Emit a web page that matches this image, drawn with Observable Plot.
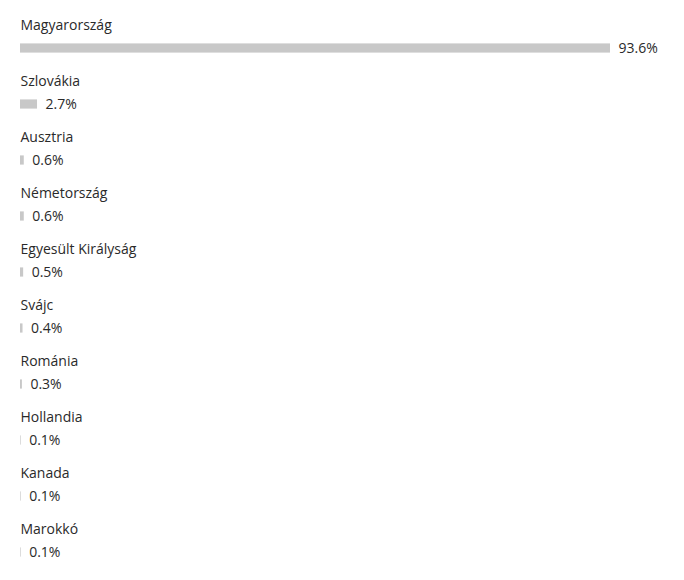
<!DOCTYPE html>
<html>
<head>
<meta charset="utf-8">
<script src="https://cdn.jsdelivr.net/npm/d3@7"></script>
<script src="https://cdn.jsdelivr.net/npm/@observablehq/plot@0.6"></script>
<style>
  html, body { margin: 0; padding: 0; background: #fff; }
  #chart { width: 684px; height: 580px; }
</style>
</head>
<body>
<div id="chart"></div>
<script>
const countries = ["Magyarország", "Szlovákia", "Ausztria", "Németország", "Egyesült Királyság", "Svájc", "Románia", "Hollandia", "Kanada", "Marokkó"];
const values = [93.6, 2.7, 0.6, 0.6, 0.5, 0.4, 0.3, 0.1, 0.1, 0.1];
const valueLabels = ["93.6%", "2.7%", "0.6%", "0.6%", "0.5%", "0.4%", "0.3%", "0.1%", "0.1%", "0.1%"];

const data = countries.map((c, i) => ({country: c, value: values[i], label: valueLabels[i]}));

const chart = Plot.plot({
  width: 684,
  height: 580,
  marginTop: 18,
  marginBottom: 0,
  marginLeft: 20,
  marginRight: 74,
  style: {fontFamily: "'Open Sans', 'Noto Sans', sans-serif", background: "#fff"},
  x: {domain: [0, 93.6], axis: null},
  y: {domain: countries, axis: null, padding: 0, range: [18, 582]},
  marks: [
    Plot.barX(data, {x: "value", y: "country", fill: "#c8c8c8", insetTop: 23.4, insetBottom: 23.4}),
    Plot.text(data, {x: 0, y: "country", text: "country", textAnchor: "start", dy: -23, fill: "#2a2a2a", fontSize: 14}),
    Plot.text(data, {x: "value", y: "country", text: "label", textAnchor: "start", dx: 8, fill: "#2a2a2a", fontSize: 14})
  ]
});
document.getElementById("chart").appendChild(chart);
</script>
</body>
</html>
